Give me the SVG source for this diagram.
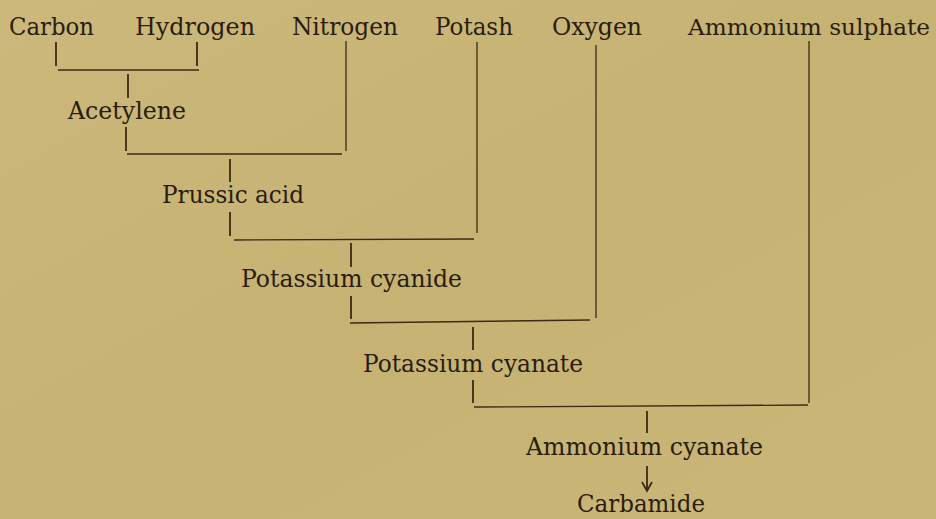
<svg xmlns="http://www.w3.org/2000/svg" width="936" height="519" viewBox="0 0 936 519">
<style>
text{font-family:"DejaVu Serif","Liberation Serif",serif;font-size:25px;fill:#2a1c0e}
.c line,.c path{stroke:#3a2a15;fill:none;stroke-width:1.3}
.c .s{stroke-width:1.8}
</style>
<defs>
<linearGradient id="bg" x1="0" y1="0" x2="1" y2="1">
<stop offset="0" stop-color="#cbb87a"/>
<stop offset="0.5" stop-color="#c6b374"/>
<stop offset="1" stop-color="#cab778"/>
</linearGradient>
</defs>
<rect width="936" height="519" fill="url(#bg)"/>
<g id="carbon"><text x="9" y="35" textLength="85" lengthAdjust="spacingAndGlyphs">Carbon</text></g>
<g id="hydrogen"><text x="135" y="35" textLength="120" lengthAdjust="spacingAndGlyphs">Hydrogen</text></g>
<g id="nitrogen"><text x="292" y="35" textLength="106" lengthAdjust="spacingAndGlyphs">Nitrogen</text></g>
<g id="potash"><text x="435" y="35" textLength="78" lengthAdjust="spacingAndGlyphs">Potash</text></g>
<g id="oxygen"><text x="552" y="35" textLength="90" lengthAdjust="spacingAndGlyphs">Oxygen</text></g>
<g id="ammonium-sulphate"><text x="688" y="35" textLength="242" lengthAdjust="spacingAndGlyphs" style="font-size:23px">Ammonium sulphate</text></g>
<g id="acetylene"><text x="68" y="119" textLength="118" lengthAdjust="spacingAndGlyphs">Acetylene</text></g>
<g id="prussic-acid"><text x="162" y="203" textLength="142" lengthAdjust="spacingAndGlyphs">Prussic acid</text></g>
<g id="potassium-cyanide"><text x="241" y="287" textLength="221" lengthAdjust="spacingAndGlyphs">Potassium cyanide</text></g>
<g id="potassium-cyanate"><text x="363" y="372" textLength="220" lengthAdjust="spacingAndGlyphs">Potassium cyanate</text></g>
<g id="ammonium-cyanate"><text x="526" y="455" textLength="237" lengthAdjust="spacingAndGlyphs">Ammonium cyanate</text></g>
<g id="carbamide"><text x="577" y="512" textLength="128" lengthAdjust="spacingAndGlyphs" style="font-size:24px">Carbamide</text></g>
<g id="connectors" class="c">
<line class="s" x1="56" y1="42" x2="56" y2="66"/>
<line class="s" x1="197" y1="42" x2="197" y2="66"/>
<line x1="58" y1="70" x2="199" y2="70"/>
<line class="s" x1="128" y1="74" x2="128" y2="98"/>
<line class="s" x1="126" y1="127" x2="126" y2="151"/>
<line x1="346" y1="41" x2="346" y2="151"/>
<line x1="127" y1="154" x2="342" y2="154"/>
<line class="s" x1="230" y1="159" x2="230" y2="182"/>
<line class="s" x1="230" y1="212" x2="230" y2="236"/>
<line x1="477" y1="42" x2="477" y2="233"/>
<line x1="234" y1="240" x2="474" y2="239"/>
<line class="s" x1="351" y1="243" x2="351" y2="267"/>
<line class="s" x1="351" y1="296" x2="351" y2="319"/>
<line x1="596" y1="45" x2="596" y2="318"/>
<line x1="350" y1="323" x2="590" y2="320"/>
<line class="s" x1="473" y1="327" x2="473" y2="350"/>
<line class="s" x1="473" y1="380" x2="473" y2="403"/>
<line x1="809" y1="41" x2="809" y2="403"/>
<line x1="474" y1="407" x2="808" y2="405"/>
<line class="s" x1="647" y1="411" x2="647" y2="433"/>
<line class="s" x1="647" y1="466" x2="647" y2="490"/>
<path class="s" d="M642 482 L647 491 L652 482"/>
</g>
</svg>
